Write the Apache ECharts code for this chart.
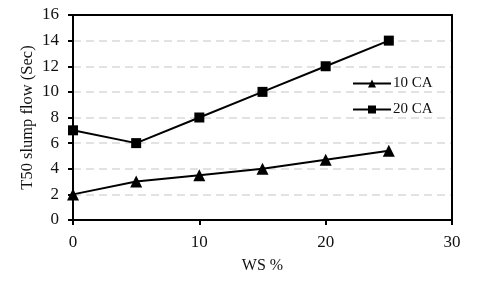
<!DOCTYPE html>
<html>
<head>
<meta charset="utf-8">
<script src="https://cdn.jsdelivr.net/npm/echarts@6/dist/echarts.min.js"></script>
<style>html,body{margin:0;padding:0;background:#fff}#c{width:480px;height:287px}</style>
</head>
<body>
<div id="c"></div>
<script>
var ws = [0, 5, 10, 15, 20, 25];
var ca10 = [2, 3, 3.5, 4, 4.7, 5.4];
var ca20 = [7, 6, 8, 10, 12, 14];
var seriesNames = ['10 CA', '20 CA'];

function pairs(xs, ys) { return xs.map(function (x, i) { return [x, ys[i]]; }); }
var font = '"Liberation Serif", "Times New Roman", serif';
var chart = echarts.init(document.getElementById('c'));
chart.setOption({
  animation: false,
  backgroundColor: '#fff',
  grid: { left: 73, right: 28, top: 15, bottom: 67, show: false },
  legend: {
    orient: 'vertical', left: 347, top: 71, itemWidth: 38, itemHeight: 10, itemGap: 11,
    textStyle: { fontFamily: font, fontSize: 15, color: '#111', padding: [0, 0, 0, -3] },
    data: seriesNames
  },
  xAxis: [{
    type: 'value', min: 0, max: 30, interval: 10,
    name: 'WS %', nameLocation: 'middle', nameGap: 38, nameMoveOverlap: false,
    nameTextStyle: { fontFamily: font, fontSize: 16, color: '#111' },
    axisLine: { onZero: false, lineStyle: { color: '#000', width: 2 } },
    axisTick: { show: true, length: 5, lineStyle: { color: '#000', width: 2 } },
    axisLabel: { fontFamily: font, fontSize: 17, color: '#111', margin: 14 },
    splitLine: { show: false }
  }, {
    type: 'value', min: 0, max: 30, interval: 10, position: 'top',
    axisLine: { show: true, onZero: false, lineStyle: { color: '#000', width: 2 } },
    axisTick: { show: false }, axisLabel: { show: false }, splitLine: { show: false }
  }],
  yAxis: [{
    type: 'value', min: 0, max: 16, interval: 2,
    name: 'T50 slump flow (Sec)', nameLocation: 'middle', nameGap: 37, nameMoveOverlap: false,
    nameTextStyle: { fontFamily: font, fontSize: 16.5, color: '#111' },
    axisLine: { show: true, onZero: false, lineStyle: { color: '#000', width: 2 } },
    axisTick: { show: true, length: 5, lineStyle: { color: '#000', width: 2 } },
    axisLabel: { fontFamily: font, fontSize: 17, color: '#111', margin: 14 },
    splitLine: { show: true, showMinLine: false, showMaxLine: false, lineStyle: { color: '#d9d9d9', width: 1.5, type: [8, 5] } }
  }, {
    type: 'value', min: 0, max: 16, interval: 2, position: 'right',
    axisLine: { show: true, onZero: false, lineStyle: { color: '#000', width: 2 } },
    axisTick: { show: false }, axisLabel: { show: false }, splitLine: { show: false }
  }],
  series: [
    { name: seriesNames[0], type: 'line', data: pairs(ws, ca10), symbol: 'triangle', symbolSize: 12,
      lineStyle: { color: '#000', width: 2 }, itemStyle: { color: '#000' } },
    { name: seriesNames[1], type: 'line', data: pairs(ws, ca20), symbol: 'rect', symbolSize: 10,
      lineStyle: { color: '#000', width: 2 }, itemStyle: { color: '#000' } }
  ]
});
</script>
</body>
</html>
